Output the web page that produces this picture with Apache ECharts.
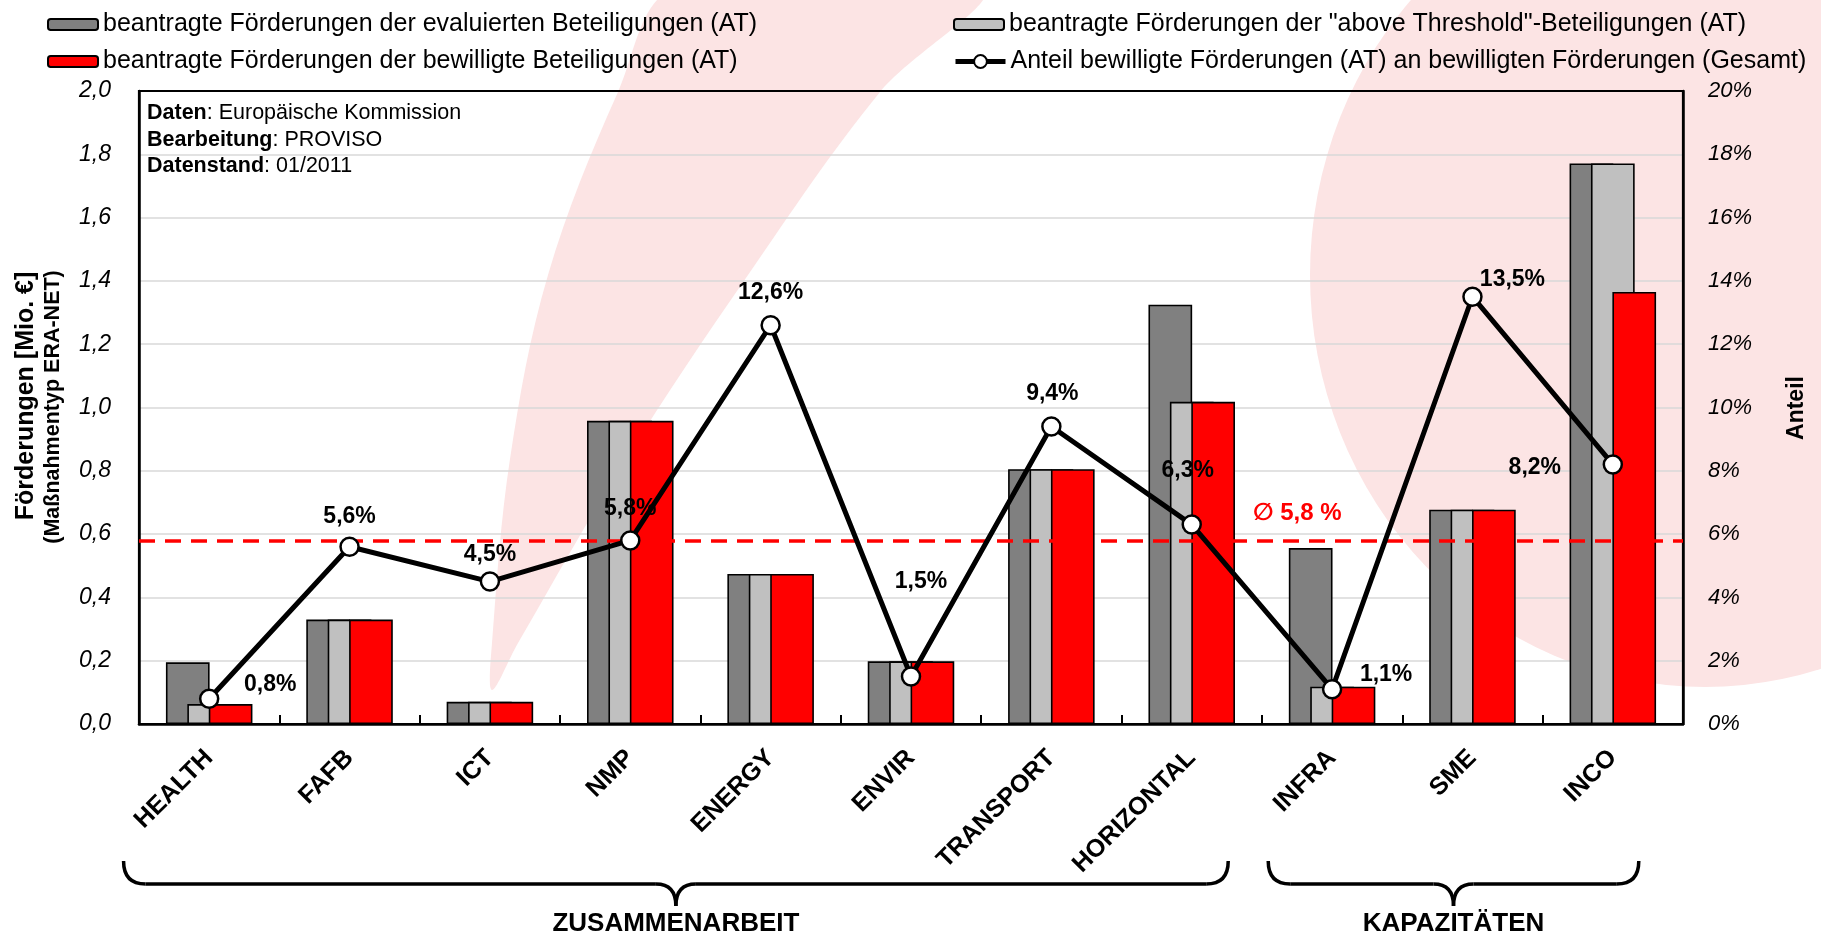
<!DOCTYPE html>
<html>
<head>
<meta charset="utf-8">
<script src="https://cdn.jsdelivr.net/npm/echarts@6.0.0/dist/echarts.min.js"></script>
<style>
html, body { margin: 0; padding: 0; background: #fff; }
#chart { width: 1821px; height: 936px; }
</style>
</head>
<body>
<div id="chart"></div>
<script>
/* Data */
var categories     = ['HEALTH', 'FAFB', 'ICT', 'NMP', 'ENERGY', 'ENVIR', 'TRANSPORT', 'HORIZONTAL', 'INFRA', 'SME', 'INCO'];
var evaluated      = [0.195, 0.33, 0.07, 0.958, 0.474, 0.198, 0.805, 1.325, 0.556, 0.677, 1.771];
var aboveThreshold = [0.063, 0.33, 0.07, 0.958, 0.474, 0.198, 0.805, 1.018, 0.118, 0.677, 1.771];
var approved       = [0.063, 0.33, 0.07, 0.958, 0.474, 0.198, 0.805, 1.018, 0.118, 0.677, 1.365];
var shareApproved  = [0.8, 5.6, 4.5, 5.8, 12.6, 1.5, 9.4, 6.3, 1.1, 13.5, 8.2];
var shareAverage   = 5.8;
var groups         = [{name: 'ZUSAMMENARBEIT', first: 0, last: 7}, {name: 'KAPAZITÄTEN', first: 8, last: 10}];
var seriesNames    = [
    'beantragte Förderungen der evaluierten Beteiligungen (AT)',
    'beantragte Förderungen der "above Threshold"-Beteiligungen (AT)',
    'beantragte Förderungen der bewilligte Beteiligungen (AT)',
    'Anteil bewilligte Förderungen (AT) an bewilligten Förderungen (Gesamt)'
];

/* Label placement of the share values (px relative to the marker) */
var shareLabelOffsets = [[61, -14], [0, -30], [0, -27], [0, -32], [0, -33], [10, -95], [1, -33], [-4, -54], [54, -15], [40, -17], [-78, 3]];
/* Brace ends, as fraction of one category band left of first / right of last */
var braceReach = [[0.61, 0.26], [0.455, 0.185]];

var FONT = '"Liberation Sans", Arial, sans-serif';
var PINK = '#fce4e4';

function comma(v, d)
{
    return v.toFixed(d).replace('.', ',');
}

var chart = echarts.init(document.getElementById('chart'));

function legendAt(name, left, top, itemHeight)
{
    return {
        data: [name],
        left: left,
        top: top,
        itemWidth: 50,
        itemHeight: itemHeight,
        selectedMode: false,
        lineStyle: {width: 5, color: '#000'},
        textStyle: {fontSize: 25, color: '#000', fontFamily: FONT}
    };
}

var barBase = {type: 'bar', barWidth: 43.7, barGap: '-51%', z: 2};

chart.setOption({
    backgroundColor: '#fff',
    animation: false,
    textStyle: {fontFamily: FONT},
    grid: {left: 139, right: 138, top: 91, bottom: 212, show: false, containLabel: false, outerBoundsMode: 'none'},
    legend: [
        legendAt(seriesNames[0], 42, 7, 11),
        legendAt(seriesNames[2], 42, 44, 11),
        legendAt(seriesNames[1], 948, 7, 11),
        legendAt(seriesNames[3], 948, 44, 16)
    ],
    xAxis: {
        type: 'category',
        data: categories,
        axisLine: {lineStyle: {color: '#000', width: 2.5}},
        axisTick: {show: true, inside: true, length: 9, interval: 0, lineStyle: {color: '#000', width: 2}},
        axisLabel: {interval: 0, rotate: 45, margin: 30, fontSize: 25, fontWeight: 'bold', color: '#000', fontFamily: FONT},
        splitLine: {show: false}
    },
    yAxis: [
        {
            type: 'value', min: 0, max: 2, interval: 0.2,
            axisLine: {show: true, lineStyle: {color: '#000', width: 2.5}},
            axisTick: {show: false},
            axisLabel: {fontSize: 23, fontStyle: 'italic', color: '#000', margin: 28, fontFamily: FONT, formatter: function(v) { return comma(v, 1); }},
            splitLine: {show: true, lineStyle: {color: '#d9d9d9', width: 1.5}}
        },
        {
            type: 'value', min: 0, max: 20, interval: 2, position: 'right',
            axisLine: {show: true, lineStyle: {color: '#000', width: 2.5}},
            axisTick: {show: false},
            axisLabel: {fontSize: 22, fontStyle: 'italic', color: '#000', margin: 25, fontFamily: FONT, formatter: '{value}%'},
            splitLine: {show: false}
        }
    ],
    series: [
        Object.assign({}, barBase, {name: seriesNames[0], data: evaluated, itemStyle: {color: '#808080', borderColor: '#000', borderWidth: 1.6}}),
        Object.assign({}, barBase, {name: seriesNames[1], data: aboveThreshold, itemStyle: {color: '#c0c0c0', borderColor: '#000', borderWidth: 1.6}}),
        Object.assign({}, barBase, {name: seriesNames[2], data: approved, itemStyle: {color: '#ff0000', borderColor: '#000', borderWidth: 1.6}}),
        {
            name: seriesNames[3],
            type: 'line',
            yAxisIndex: 1,
            z: 5,
            symbol: 'circle',
            symbolSize: 18,
            data: shareApproved.map(function(v, i)
            {
                return {value: v, label: {offset: shareLabelOffsets[i]}};
            }),
            lineStyle: {color: '#000', width: 5},
            itemStyle: {color: '#fff', borderColor: '#000', borderWidth: 2.5},
            label: {
                show: true, position: 'inside', fontSize: 23, fontWeight: 'bold', color: '#000', fontFamily: FONT,
                formatter: function(p) { return comma(p.value, 1) + '%'; }
            },
            markLine: {
                silent: true,
                symbol: ['none', 'none'],
                label: {show: false},
                lineStyle: {color: '#ff0000', type: [16, 10], width: 3.5},
                data: [{yAxis: shareAverage}]
            }
        }
    ]
});

/* Decorations placed from the axes */
var px = function(i) { return chart.convertToPixel({xAxisIndex: 0}, categories[i]); };
var py = function(v) { return chart.convertToPixel({yAxisIndex: 0}, v); };
var band = px(1) - px(0);
var avgY = chart.convertToPixel({yAxisIndex: 1}, shareAverage);
var plotLeft = px(0) - band / 2, plotRight = px(categories.length - 1) + band / 2;
var plotTop = py(2), plotBottom = py(0);

var graphics = [
    /* background swoosh */
    {
        type: 'polygon', z: -10, silent: true,
        shape: {smooth: 0.35, points: [[676, -12], [618, 92], [548, 275], [510, 459], [492, 643], [492, 690], [518, 643], [626, 459], [748, 275], [880, 92], [982, -12]]},
        style: {fill: PINK}
    },
    /* background disc */
    {
        type: 'circle', z: -10, silent: true,
        x: 1705, y: 275, scaleY: 1.043,
        shape: {cx: 0, cy: 0, r: 395},
        style: {fill: PINK}
    },
    /* plot frame */
    {
        type: 'rect', z: 3, silent: true,
        shape: {x: plotLeft, y: plotTop, width: plotRight - plotLeft, height: plotBottom - plotTop},
        style: {fill: 'none', stroke: '#000', lineWidth: 2.2}
    },
    /* source box */
    {
        type: 'text', z: 10, x: 147, y: 100,
        style: {
            text: '{b|Daten}: Europäische Kommission\n{b|Bearbeitung}: PROVISO\n{b|Datenstand}: 01/2011',
            fontSize: 21.5, fontFamily: FONT, lineHeight: 26.5, fill: '#000',
            rich: {b: {fontWeight: 'bold', fontSize: 21.5, fontFamily: FONT, lineHeight: 26.5}}
        }
    },
    /* axis titles */
    {
        type: 'text', x: 26, y: 396, rotation: Math.PI / 2,
        style: {text: 'Förderungen [Mio. €]', fontSize: 25, fontWeight: 'bold', fontFamily: FONT, fill: '#000', align: 'center', verticalAlign: 'middle'}
    },
    {
        type: 'text', x: 53, y: 407, rotation: Math.PI / 2,
        style: {text: '(Maßnahmentyp ERA-NET)', fontSize: 21.5, fontWeight: 'bold', fontFamily: FONT, fill: '#000', align: 'center', verticalAlign: 'middle'}
    },
    {
        type: 'text', x: 1797, y: 408, rotation: Math.PI / 2,
        style: {text: 'Anteil', fontSize: 23, fontWeight: 'bold', fontFamily: FONT, fill: '#000', align: 'center', verticalAlign: 'middle'}
    },
    /* average label */
    {
        type: 'text', z: 10, x: (px(7) + px(8)) / 2 - 9, y: avgY - 27,
        style: {text: '\u2205 5,8 %', fontSize: 24, fontWeight: 'bold', fontFamily: FONT + ', "DejaVu Sans"', fill: '#ff0000', align: 'left', verticalAlign: 'middle'}
    }
];

/* Group braces */
var yTop = 861, yMid = 884, yTip = 906, r = 22, w = 3.5;
groups.forEach(function(g, k)
{
    var L = px(g.first) - braceReach[k][0] * band;
    var R = px(g.last) + braceReach[k][1] * band;
    var T = (L + R) / 2;
    var ls = {stroke: '#000', lineWidth: w, fill: 'none'};
    graphics.push(
        {type: 'bezierCurve', shape: {x1: L, y1: yTop, cpx1: L, cpy1: yMid, x2: L + r, y2: yMid}, style: ls},
        {type: 'line', shape: {x1: L + r, y1: yMid, x2: T - 20, y2: yMid}, style: ls},
        {type: 'bezierCurve', shape: {x1: T - 20, y1: yMid, cpx1: T, cpy1: yMid, x2: T, y2: yTip}, style: ls},
        {type: 'bezierCurve', shape: {x1: T, y1: yTip, cpx1: T, cpy1: yMid, x2: T + 20, y2: yMid}, style: ls},
        {type: 'line', shape: {x1: T + 20, y1: yMid, x2: R - r, y2: yMid}, style: ls},
        {type: 'bezierCurve', shape: {x1: R - r, y1: yMid, cpx1: R, cpy1: yMid, x2: R, y2: yTop}, style: ls},
        {
            type: 'text', x: T, y: 924,
            style: {text: g.name, fontSize: 26, fontWeight: 'bold', fontFamily: FONT, fill: '#000', align: 'center', verticalAlign: 'middle'}
        }
    );
});

chart.setOption({graphic: graphics});
</script>
</body>
</html>
